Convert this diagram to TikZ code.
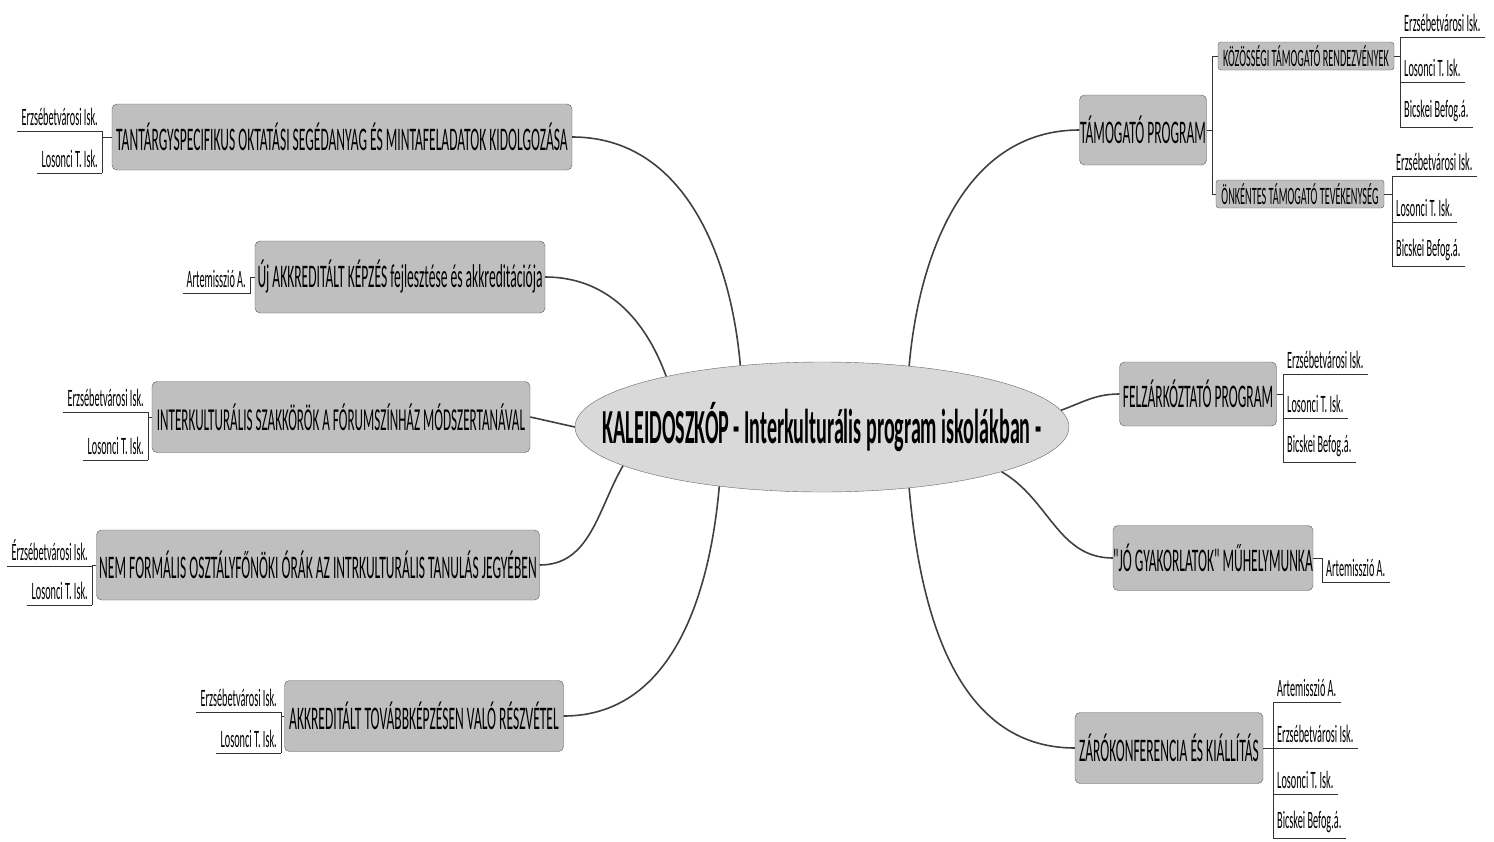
\documentclass[tikz,border=0pt]{standalone}
\usepackage{fontspec}
\setmainfont{Carlito}
\newfontfamily\narrowfont[FakeStretch=0.41]{Carlito}
\usetikzlibrary{shapes.geometric}

\tikzset{
  topic/.style={draw=black!65, fill=black!25, rounded corners=5pt, inner xsep=0pt, inner ysep=2pt,
    font=\narrowfont\fontsize{33}{33}\selectfont},
  subtopic/.style={topic, rounded corners=3pt, font=\narrowfont\fontsize{25}{25}\selectfont},
  leaf/.style={inner xsep=4pt, inner ysep=5pt, font=\narrowfont\fontsize{25}{25}\selectfont},
  leafl/.style={leaf, anchor=south east},
  leafr/.style={leaf, anchor=south west},
  line/.style={draw=black!80, line width=1pt},
  link/.style={draw=black!75, line width=1.6pt},
}

\begin{document}
\begin{tikzpicture}[x=1pt,y=1pt]
    \useasboundingbox (0,0) rectangle (1494,-841);

    % Mitte
    \node[ellipse, draw=black!60, fill=black!15, minimum width=494pt, minimum height=130pt] (kal) at (822,-427) {};
    \node[font=\narrowfont\bfseries\fontsize{49}{49}\selectfont] (kaltxt) at (kal) {KALEIDOSZKÓP - Interkulturális program iskolákban -};

    % Themen links
    \node[topic, minimum width=460pt, minimum height=66pt] (t1) at (342,-137) {TANTÁRGYSPECIFIKUS OKTATÁSI SEGÉDANYAG ÉS MINTAFELADATOK KIDOLGOZÁSA};
    \node[topic, minimum width=290pt, minimum height=72pt] (t2) at (400,-277) {Új AKKREDITÁLT KÉPZÉS fejlesztése és akkreditációja};
    \node[topic, minimum width=378pt, minimum height=71pt, font=\narrowfont\fontsize{32}{32}\selectfont] (t3) at (341,-417) {INTERKULTURÁLIS SZAKKÖRÖK A FÓRUMSZÍNHÁZ MÓDSZERTANÁVAL};
    \node[topic, minimum width=443pt, minimum height=70pt] (t4) at (318,-565) {NEM FORMÁLIS OSZTÁLYFŐNÖKI ÓRÁK AZ INTRKULTURÁLIS TANULÁS JEGYÉBEN};
    \node[topic, minimum width=279pt, minimum height=71pt] (t5) at (424,-716) {AKKREDITÁLT TOVÁBBKÉPZÉSEN VALÓ RÉSZVÉTEL};

    % Themen rechts
    \node[topic, minimum width=127pt, minimum height=70pt] (r1) at (1143,-130) {TÁMOGATÓ PROGRAM};
    \node[subtopic, minimum width=176pt, minimum height=28pt] (r1a) at (1306,-56) {KÖZÖSSÉGI TÁMOGATÓ RENDEZVÉNYEK};
    \node[subtopic, minimum width=168pt, minimum height=28pt] (r1b) at (1300,-194) {ÖNKÉNTES TÁMOGATÓ TEVÉKENYSÉG};
    \node[topic, minimum width=157pt, minimum height=64pt] (r2) at (1198,-394) {FELZÁRKÓZTATÓ PROGRAM};
    \node[topic, minimum width=200pt, minimum height=65pt] (r3) at (1213,-558) {"JÓ GYAKORLATOK" MŰHELYMUNKA};
    \node[topic, minimum width=188pt, minimum height=71pt] (r4) at (1169,-748) {ZÁRÓKONFERENCIA ÉS KIÁLLÍTÁS};

    % Verbindungen zur Mitte
    \draw[link] (kal.143) to[out=95,in=0] (t1.east);
    \draw[link] (kal.162) to[out=110,in=0] (t2.east);
    \draw[link] (kal.west) -- (t3.east);
    \draw[link] (kal.191) to[out=240,in=0] (t4.east);
    \draw[link] (kal.210) to[out=265,in=0] (t5.east);
    \draw[link] (kal.35) to[out=85,in=180] (r1.west);
    \draw[link] (kal.4) to[out=20,in=180] (r2.west);
    \draw[link] (kal.346) to[out=-30,in=180] (r3.west);
    \draw[link] (kal.325) to[out=-85,in=180] (r4.west);

    % Unterthemen
    \draw[line] (r1.east) -- ++(6,0) coordinate (r1s);
    \draw[line] (r1a.west) -| (r1s) |- (r1b.west);

    % Schulen links
    \foreach \y/\name [count=\i] in {131/Erzsébetvárosi Isk., 173/Losonci T. Isk.}
    {
        \node[leafl] (t1l\i) at (102,-\y) {\name};
        \draw[line] (t1l\i.south west) -- (t1l\i.south east);
    }
    \draw[line] (t1l1.south east) -- (t1l2.south east);
    \draw[line] (t1.west) -- (t1.west -| t1l1.south east);

    \node[leafl] (t2l1) at (250,-293) {Artemisszió A.};
    \draw[line] (t2l1.south west) -- (t2l1.south east) |- (t2.west);

    \foreach \y/\name [count=\i] in {412/Erzsébetvárosi Isk., 460/Losonci T. Isk.}
    {
        \node[leafl] (t3l\i) at (148,-\y) {\name};
        \draw[line] (t3l\i.south west) -- (t3l\i.south east);
    }
    \draw[line] (t3l1.south east) -- (t3l2.south east);
    \draw[line] (t3.west) -- (t3.west -| t3l1.south east);

    \foreach \y/\name [count=\i] in {566/Érzsébetvárosi Isk., 605/Losonci T. Isk.}
    {
        \node[leafl] (t4l\i) at (92,-\y) {\name};
        \draw[line] (t4l\i.south west) -- (t4l\i.south east);
    }
    \draw[line] (t4l1.south east) -- (t4l2.south east);
    \draw[line] (t4.west) -- (t4.west -| t4l1.south east);

    \foreach \y/\name [count=\i] in {712/Erzsébetvárosi Isk., 753/Losonci T. Isk.}
    {
        \node[leafl] (t5l\i) at (281,-\y) {\name};
        \draw[line] (t5l\i.south west) -- (t5l\i.south east);
    }
    \draw[line] (t5l1.south east) -- (t5l2.south east);
    \draw[line] (t5.west) -- (t5.west -| t5l1.south east);

    % Schulen rechts
    \foreach \y/\name [count=\i] in {37/Erzsébetvárosi Isk., 82/Losonci T. Isk., 127/Bicskei Befog.á.}
    {
        \node[leafr] (r1al\i) at (1400,-\y) {\name};
        \draw[line] (r1al\i.south west) -- (r1al\i.south east);
    }
    \draw[line] (r1al1.south west) -- (r1al3.south west);
    \draw[line] (r1a.east) -- (r1a.east -| r1al1.south west);

    \foreach \y/\name [count=\i] in {176/Erzsébetvárosi Isk., 222/Losonci T. Isk., 266/Bicskei Befog.á.}
    {
        \node[leafr] (r1bl\i) at (1392,-\y) {\name};
        \draw[line] (r1bl\i.south west) -- (r1bl\i.south east);
    }
    \draw[line] (r1bl1.south west) -- (r1bl3.south west);
    \draw[line] (r1b.east) -- (r1b.east -| r1bl1.south west);

    \foreach \y/\name [count=\i] in {374/Erzsébetvárosi Isk., 418/Losonci T. Isk., 462/Bicskei Befog.á.}
    {
        \node[leafr] (r2l\i) at (1283,-\y) {\name};
        \draw[line] (r2l\i.south west) -- (r2l\i.south east);
    }
    \draw[line] (r2l1.south west) -- (r2l3.south west);
    \draw[line] (r2.east) -- (r2.east -| r2l1.south west);

    \node[leafr] (r3l1) at (1322,-582) {Artemisszió A.};
    \draw[line] (r3.east) -| (r3l1.south west) -- (r3l1.south east);

    \foreach \y/\name [count=\i] in {702/Artemisszió A., 748/Erzsébetvárosi Isk., 794/Losonci T. Isk., 838/Bicskei Befog.á.}
    {
        \node[leafr] (r4l\i) at (1273,-\y) {\name};
        \draw[line] (r4l\i.south west) -- (r4l\i.south east);
    }
    \draw[line] (r4l1.south west) -- (r4l4.south west);
    \draw[line] (r4.east) -- (r4.east -| r4l1.south west);
\end{tikzpicture}
\end{document}
